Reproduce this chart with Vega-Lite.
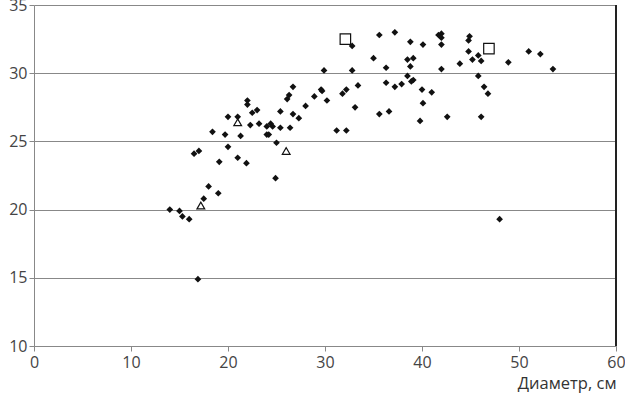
{
  "$schema": "https://vega.github.io/schema/vega-lite/v6.json",
  "autosize": "none",
  "width": 582,
  "height": 341,
  "padding": {"left": 34, "top": 5, "right": 9, "bottom": 54},
  "background": "white",
  "config": {"view": {"stroke": null}, "font": "Open Sans"},
  "data": {"values": [
    {"d":14.0,"h":20.0,"g":"a"},{"d":15.0,"h":19.9,"g":"a"},{"d":15.3,"h":19.5,"g":"a"},{"d":16.0,"h":19.3,"g":"a"},
    {"d":16.9,"h":14.9,"g":"a"},{"d":16.5,"h":24.1,"g":"a"},{"d":17.0,"h":24.3,"g":"a"},{"d":17.5,"h":20.8,"g":"a"},
    {"d":18.0,"h":21.7,"g":"a"},{"d":19.0,"h":21.2,"g":"a"},{"d":19.1,"h":23.5,"g":"a"},{"d":18.4,"h":25.7,"g":"a"},
    {"d":19.7,"h":25.5,"g":"a"},{"d":20.0,"h":24.6,"g":"a"},{"d":20.0,"h":26.8,"g":"a"},{"d":21.0,"h":26.8,"g":"a"},
    {"d":21.0,"h":23.8,"g":"a"},{"d":21.3,"h":25.4,"g":"a"},{"d":21.9,"h":23.4,"g":"a"},{"d":22.0,"h":28.0,"g":"a"},
    {"d":22.0,"h":27.7,"g":"a"},{"d":22.5,"h":27.1,"g":"a"},{"d":23.0,"h":27.3,"g":"a"},{"d":22.3,"h":26.2,"g":"a"},
    {"d":23.2,"h":26.3,"g":"a"},{"d":24.0,"h":26.1,"g":"a"},{"d":24.4,"h":26.3,"g":"a"},{"d":24.6,"h":26.1,"g":"a"},
    {"d":24.0,"h":25.5,"g":"a"},{"d":24.2,"h":25.5,"g":"a"},{"d":25.4,"h":26.0,"g":"a"},{"d":26.4,"h":26.0,"g":"a"},
    {"d":25.0,"h":24.9,"g":"a"},{"d":24.9,"h":22.3,"g":"a"},{"d":25.4,"h":27.2,"g":"a"},{"d":26.7,"h":27.0,"g":"a"},
    {"d":27.3,"h":26.7,"g":"a"},{"d":26.1,"h":28.1,"g":"a"},{"d":26.3,"h":28.4,"g":"a"},{"d":26.7,"h":29.0,"g":"a"},
    {"d":28.0,"h":27.6,"g":"a"},{"d":28.9,"h":28.3,"g":"a"},{"d":29.6,"h":28.8,"g":"a"},{"d":29.7,"h":28.7,"g":"a"},
    {"d":30.2,"h":28.0,"g":"a"},{"d":29.9,"h":30.2,"g":"a"},{"d":31.2,"h":25.8,"g":"a"},{"d":32.2,"h":25.8,"g":"a"},
    {"d":31.8,"h":28.5,"g":"a"},{"d":32.2,"h":28.8,"g":"a"},{"d":33.4,"h":29.1,"g":"a"},{"d":33.1,"h":27.5,"g":"a"},
    {"d":32.8,"h":30.2,"g":"a"},{"d":32.8,"h":32.0,"g":"a"},{"d":35.0,"h":31.1,"g":"a"},{"d":35.6,"h":32.8,"g":"a"},
    {"d":35.6,"h":27.0,"g":"a"},{"d":36.6,"h":27.2,"g":"a"},{"d":36.3,"h":30.4,"g":"a"},{"d":36.3,"h":29.3,"g":"a"},
    {"d":37.2,"h":29.0,"g":"a"},{"d":37.2,"h":33.0,"g":"a"},{"d":37.9,"h":29.2,"g":"a"},{"d":38.5,"h":31.0,"g":"a"},
    {"d":39.1,"h":31.1,"g":"a"},{"d":38.8,"h":30.5,"g":"a"},{"d":38.5,"h":29.8,"g":"a"},{"d":39.1,"h":29.5,"g":"a"},
    {"d":38.9,"h":29.4,"g":"a"},{"d":38.8,"h":32.3,"g":"a"},{"d":40.1,"h":32.1,"g":"a"},{"d":40.0,"h":28.8,"g":"a"},
    {"d":41.0,"h":28.6,"g":"a"},{"d":40.1,"h":27.8,"g":"a"},{"d":39.8,"h":26.5,"g":"a"},{"d":42.0,"h":32.9,"g":"a"},
    {"d":41.7,"h":32.8,"g":"a"},{"d":42.0,"h":32.6,"g":"a"},{"d":42.0,"h":32.1,"g":"a"},{"d":42.0,"h":30.3,"g":"a"},
    {"d":42.6,"h":26.8,"g":"a"},{"d":43.9,"h":30.7,"g":"a"},{"d":44.8,"h":32.4,"g":"a"},{"d":44.9,"h":32.7,"g":"a"},
    {"d":44.8,"h":31.6,"g":"a"},{"d":45.2,"h":31.0,"g":"a"},{"d":45.8,"h":31.3,"g":"a"},{"d":46.1,"h":30.9,"g":"a"},
    {"d":45.8,"h":29.8,"g":"a"},{"d":46.4,"h":29.0,"g":"a"},{"d":46.8,"h":28.5,"g":"a"},{"d":46.1,"h":26.8,"g":"a"},
    {"d":48.0,"h":19.3,"g":"a"},{"d":48.9,"h":30.8,"g":"a"},{"d":51.0,"h":31.6,"g":"a"},{"d":52.2,"h":31.4,"g":"a"},
    {"d":53.5,"h":30.3,"g":"a"},
    {"d":17.2,"h":20.3,"g":"b"},{"d":21.0,"h":26.4,"g":"b"},{"d":26.0,"h":24.3,"g":"b"},
    {"d":32.1,"h":32.5,"g":"c"},{"d":46.9,"h":31.8,"g":"c"}
  ]},
  "layer": [
    {
      "mark": {"type": "rule", "color": "#222", "strokeWidth": 1},
      "encoding": {"x": {"datum": 60, "type": "quantitative"}}
    },
    {
      "transform": [{"filter": "datum.g == 'a'"}],
      "mark": {"type": "point", "shape": "diamond", "filled": true, "color": "#111", "size": 45, "opacity": 1},
      "encoding": {
        "x": {"field": "d", "type": "quantitative", "scale": {"domain": [0, 60], "nice": false},
          "axis": {"values": [0,10,20,30,40,50,60], "title": "Диаметр, см", "titleAnchor": "end", "titleAlign": "right",
            "titleFontWeight": "normal", "titleFontSize": 16.5, "titleColor": "#333", "titlePadding": 5,
            "labelFontSize": 16, "labelColor": "#444", "labelPadding": 3, "labelFlush": false,
            "domainColor": "#888", "tickColor": "#888", "tickSize": 5, "grid": false}},
        "y": {"field": "h", "type": "quantitative", "scale": {"domain": [10, 35], "nice": false, "zero": false},
          "axis": {"values": [10,15,20,25,30,35], "title": null, "labelFontSize": 16, "labelColor": "#444",
            "labelPadding": 2, "labelFlush": false, "domainColor": "#888", "tickColor": "#888", "tickSize": 5,
            "grid": true, "gridColor": "#888", "gridWidth": 1}}
      }
    },
    {
      "transform": [{"filter": "datum.g == 'b'"}],
      "mark": {"type": "point", "shape": "triangle-up", "filled": false, "color": "#111", "size": 60, "strokeWidth": 1.2, "opacity": 1},
      "encoding": {"x": {"field": "d", "type": "quantitative"}, "y": {"field": "h", "type": "quantitative"}}
    },
    {
      "transform": [{"filter": "datum.g == 'c'"}],
      "mark": {"type": "point", "shape": "square", "filled": false, "color": "#111", "size": 110, "strokeWidth": 1.2, "opacity": 1},
      "encoding": {"x": {"field": "d", "type": "quantitative"}, "y": {"field": "h", "type": "quantitative"}}
    }
  ]
}
